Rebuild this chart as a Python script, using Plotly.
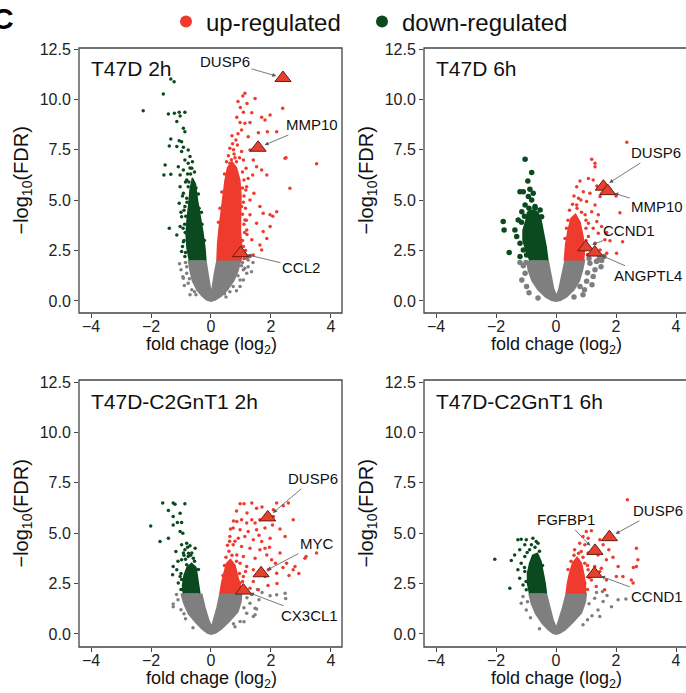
import plotly.graph_objects as go

# --------------------------
# Data (x = log2 fold change, y = -log10 FDR)
# *_core = outline of the densely packed part of each cloud
# --------------------------

panel_titles = ["T47D 2h", "T47D 6h", "T47D-C2GnT1 2h", "T47D-C2GnT1 6h"]

# ---- T47D 2h ----
t2_ns_core = [(-0.75, 2.0), (-0.7, 1.5), (-0.62, 1.0), (-0.47, 0.55), (-0.3, 0.25), (-0.15, 0.05),
              (0.0, -0.02), (0.15, 0.05), (0.35, 0.25), (0.55, 0.55), (0.76, 1.0), (0.9, 1.5),
              (0.99, 2.0), (0.2, 2.0), (0.12, 1.4), (0.06, 0.8), (0.01, 0.35), (-0.04, 0.8),
              (-0.1, 1.4), (-0.17, 2.0)]
t2_ns = [(-0.89, 0.76), (-0.94, 1.2), (-0.81, 1.7), (-0.85, 1.9), (-0.81, 1.37), (-0.92, 1.12),
         (-0.76, 0.88), (-0.64, 0.55), (-1.0, 1.55), (-1.05, 1.85), (-0.7, 0.3), (1.08, 1.54),
         (1.24, 1.7), (0.97, 1.04), (1.19, 2.1), (1.3, 2.2), (0.74, 0.71), (0.63, 0.46),
         (1.19, 1.37), (1.08, 1.04), (0.97, 0.71), (1.13, 1.62), (1.24, 2.03), (1.4, 1.9),
         (1.35, 1.45), (0.85, 0.5), (1.05, 1.9), (0.5, 0.2), (-0.5, 0.3), (-0.55, 0.45),
         (0.45, 0.35), (0.9, 1.25), (-0.72, 1.1), (1.02, 1.75)]
t2_down_core = [(-0.72, 2.0), (-0.8, 2.6), (-0.83, 3.3), (-0.8, 4.0), (-0.74, 4.8), (-0.7, 5.5),
                (-0.62, 6.1), (-0.52, 5.8), (-0.45, 5.0), (-0.35, 4.2), (-0.27, 3.4), (-0.2, 2.6),
                (-0.17, 2.0)]
t2_down = [(-1.34, 11.01), (-1.23, 10.88), (-1.59, 10.27), (-2.26, 9.44), (-1.42, 9.28),
           (-1.22, 9.31), (-1.06, 9.36), (-0.87, 9.36), (-1.03, 9.18), (-1.14, 8.9), (-0.92, 8.57),
           (-0.87, 8.4), (-1.34, 8.04), (-1.06, 7.95), (-0.98, 7.9), (-1.14, 7.66), (-0.92, 7.62),
           (-1.39, 7.69), (-0.76, 7.49), (-0.98, 7.41), (-0.7, 7.16), (-0.87, 6.99), (-1.53, 6.75),
           (-1.57, 6.25), (-1.34, 6.28), (-1.09, 6.66), (-1.03, 6.25), (-0.92, 6.5), (-0.76, 6.83),
           (-0.64, 6.58), (-0.81, 6.0), (-1.03, 5.67), (-0.92, 5.34), (-1.06, 4.84), (-0.98, 4.18),
           (-1.03, 3.69), (-1.39, 3.6), (-1.14, 3.27), (-0.92, 2.94), (-0.98, 2.45), (-0.87, 2.2),
           (-0.87, 4.68), (-0.81, 5.09), (-0.76, 5.67), (-0.85, 5.9), (-0.78, 6.3), (-0.9, 4.5),
           (-0.88, 3.8), (-0.9, 3.0), (-0.85, 2.4), (-0.55, 6.4), (-0.62, 6.9), (-0.7, 6.6),
           (-0.5, 5.6), (-0.4, 4.6), (-0.3, 3.8), (-0.95, 5.2), (-1.0, 4.4), (-0.86, 3.4),
           (-0.84, 4.2), (-0.8, 4.9), (-0.74, 5.9), (-0.68, 6.3), (-0.22, 3.0), (-0.32, 4.4),
           (-0.42, 5.3), (-0.93, 3.6), (-0.95, 2.7)]
t2_up_core = [(0.2, 2.0), (0.22, 2.8), (0.27, 3.6), (0.33, 4.4), (0.4, 5.2), (0.47, 6.0),
              (0.55, 6.6), (0.7, 6.9), (0.85, 6.6), (0.96, 6.0), (1.0, 5.2), (0.98, 4.4),
              (0.98, 3.5), (1.03, 2.6), (1.0, 2.0)]
t2_up = [(1.13, 10.3), (1.06, 10.17), (1.47, 10.05), (1.08, 9.36), (1.36, 9.34), (0.86, 9.11),
         (0.97, 8.85), (1.13, 8.81), (1.3, 8.85), (1.69, 9.11), (1.8, 8.98), (1.97, 9.23),
         (2.39, 9.56), (2.19, 8.4), (1.88, 8.4), (1.58, 8.35), (1.24, 8.15), (0.83, 7.99),
         (1.02, 8.48), (1.3, 7.49), (1.41, 6.99), (1.08, 6.99), (1.52, 6.66), (1.69, 6.5),
         (1.86, 6.25), (1.39, 6.25), (2.47, 7.08), (3.52, 6.8), (2.63, 5.59), (1.19, 5.67),
         (1.43, 5.34), (1.3, 5.01), (1.63, 4.68), (1.74, 4.35), (1.97, 4.27), (2.19, 4.43),
         (1.3, 4.27), (1.52, 3.85), (1.97, 3.69), (1.74, 3.44), (1.19, 3.52), (1.36, 3.03),
         (1.08, 2.7), (1.63, 2.78), (1.24, 2.2), (1.41, 2.28), (1.13, 4.02), (1.02, 4.68),
         (0.91, 5.01), (0.74, 6.33), (0.63, 6.83), (0.77, 7.29), (0.88, 7.74), (0.63, 7.57),
         (1.02, 7.41), (1.17, 6.58), (1.24, 6.08), (2.5, 7.1), (2.06, 4.2), (1.86, 3.1),
         (1.69, 2.53), (0.7, 8.2), (0.9, 8.3), (0.68, 7.0), (0.85, 6.9), (0.95, 7.1), (0.72, 7.8),
         (0.6, 6.6), (1.05, 6.4), (1.1, 6.0), (1.05, 5.6), (1.1, 5.2), (1.15, 4.6), (1.05, 4.3),
         (1.1, 3.8), (1.05, 3.0), (1.15, 2.5), (1.0, 2.3), (1.2, 3.3), (0.98, 9.6), (1.2, 9.8),
         (0.9, 9.9), (0.3, 4.6), (0.36, 5.4), (0.45, 6.3), (0.25, 3.9), (0.52, 6.9), (0.8, 7.1),
         (1.12, 3.4), (1.18, 4.0), (1.08, 4.9), (1.16, 5.5), (1.1, 2.1), (0.58, 7.2), (0.75, 7.5)]
t2_genes = [("DUSP6", 2.4, 11.06), ("MMP10", 1.57, 7.6), ("CCL2", 0.99, 2.37)]

# ---- T47D 6h ----
t6_ns_core = [(-0.98, 2.0), (-0.92, 1.5), (-0.8, 1.0), (-0.6, 0.55), (-0.35, 0.2), (-0.15, 0.03),
              (0.0, -0.02), (0.15, 0.03), (0.35, 0.2), (0.6, 0.55), (0.78, 1.0), (0.88, 1.5),
              (0.95, 2.0), (0.3, 2.0), (0.2, 1.3), (0.1, 0.6), (0.02, 0.25), (-0.08, 0.6),
              (-0.17, 1.3), (-0.26, 2.0)]
t6_ns = [(-1.09, 1.74), (-1.03, 1.37), (-1.14, 1.04), (-0.98, 0.71), (-0.9, 0.4), (1.13, 1.87),
         (1.3, 1.54), (1.24, 1.21), (1.02, 0.97), (0.8, 0.71), (1.35, 1.95), (1.41, 2.03),
         (1.52, 2.0), (1.45, 2.25), (1.6, 2.2), (1.1, 2.1), (0.9, 0.3), (-1.2, 1.9), (-0.6, 0.15),
         (0.6, 0.2), (1.5, 1.7), (1.2, 0.8), (1.05, 1.4), (0.95, 0.55), (-1.0, 1.9)]
t6_down_core = [(-0.87, 2.0), (-1.0, 2.5), (-1.1, 3.0), (-1.1, 3.5), (-1.0, 4.0), (-0.95, 4.4),
                (-0.8, 4.5), (-0.6, 4.4), (-0.5, 4.0), (-0.42, 3.4), (-0.33, 2.7), (-0.27, 2.0)]
t6_down = [(-1.03, 7.03), (-0.81, 6.37), (-0.94, 5.95), (-1.2, 5.42), (-1.09, 5.42), (-0.87, 5.54),
           (-0.76, 5.34), (-0.92, 5.18), (-0.81, 5.01), (-1.03, 4.76), (-0.7, 4.68), (-0.53, 4.51),
           (-1.14, 4.43), (-1.76, 3.94), (-1.73, 3.52), (-1.56, 2.4), (-1.26, 4.02), (-1.31, 3.19),
           (-1.2, 2.86), (-1.09, 2.53), (-1.37, 3.52), (-0.98, 2.28), (-0.48, 4.18), (-1.15, 3.9),
           (-1.2, 2.2), (-0.45, 2.6), (-0.7, 4.6), (-0.9, 4.6), (-1.05, 4.2)]
t6_up_core = [(0.28, 2.0), (0.32, 2.8), (0.4, 3.5), (0.5, 4.1), (0.65, 4.3), (0.8, 3.9),
              (0.9, 3.2), (0.95, 2.5), (0.92, 2.0)]
t6_up = [(2.36, 7.87), (1.19, 7.03), (1.3, 6.83), (1.3, 6.66), (0.8, 5.95), (1.08, 6.08),
         (1.24, 6.0), (1.36, 5.7), (0.69, 5.67), (0.91, 5.42), (1.13, 5.34), (1.47, 5.18),
         (0.83, 5.01), (1.02, 4.93), (1.3, 4.76), (0.69, 4.76), (1.19, 4.43), (1.41, 4.27),
         (0.97, 4.27), (1.36, 3.94), (1.52, 3.69), (1.24, 3.6), (1.08, 3.85), (1.41, 3.36),
         (1.08, 3.19), (1.63, 3.03), (1.3, 2.86), (1.47, 2.53), (0.93, 2.78), (1.69, 2.36),
         (2.0, 5.21), (2.13, 4.38), (1.69, 3.39), (1.8, 2.98), (2.22, 2.94), (2.02, 2.37),
         (0.45, 4.5), (0.55, 4.8), (0.7, 4.6), (0.6, 5.2), (0.85, 4.4), (1.0, 3.6), (1.05, 2.3),
         (1.1, 2.6), (0.35, 3.6), (0.4, 4.0), (1.0, 4.0), (0.3, 3.1), (1.0, 3.0), (0.75, 5.1)]
t6_genes = [("DUSP6", 1.58, 5.67), ("MMP10", 1.72, 5.45), ("CCND1", 0.99, 2.66),
            ("ANGPTL4", 1.29, 2.4)]

# ---- T47D-C2GnT1 2h ----
c2_ns_core = [(-1.0, 2.0), (-0.9, 1.5), (-0.75, 1.0), (-0.5, 0.55), (-0.3, 0.25), (-0.12, 0.04),
              (0.0, -0.02), (0.15, 0.04), (0.35, 0.25), (0.6, 0.6), (0.9, 1.1), (1.0, 1.6),
              (1.02, 2.0), (0.3, 2.0), (0.2, 1.3), (0.1, 0.7), (0.02, 0.35), (-0.08, 0.7),
              (-0.2, 1.3), (-0.31, 2.0)]
c2_ns = [(-1.26, 1.49), (-1.26, 1.35), (-1.1, 1.7), (-1.15, 1.95), (-1.0, 1.2), (-0.85, 0.75),
         (1.3, 1.52), (1.47, 1.27), (1.19, 1.03), (1.41, 0.86), (2.19, 1.94), (2.47, 2.02),
         (1.97, 1.89), (0.97, 0.61), (1.47, 0.95), (2.49, 1.76), (1.52, 1.23), (1.2, 1.8),
         (1.35, 1.95), (1.6, 1.7), (1.7, 2.05), (1.1, 0.6), (0.8, 0.35), (-0.6, 0.3), (1.55, 2.2),
         (1.1, 1.3), (-0.9, 1.0), (0.75, 0.5)]
c2_down_core = [(-0.92, 2.0), (-0.95, 2.4), (-0.9, 2.9), (-0.8, 3.3), (-0.65, 3.5), (-0.5, 3.3),
                (-0.45, 2.8), (-0.4, 2.3), (-0.37, 2.0)]
c2_down = [(-1.61, 6.49), (-1.26, 6.49), (-1.2, 6.44), (-0.87, 6.46), (-1.42, 6.13), (-1.03, 5.99),
           (-1.26, 5.83), (-0.98, 5.53), (-1.12, 5.53), (-2.01, 5.36), (-1.26, 5.41), (-1.03, 5.08),
           (-0.94, 5.0), (-1.7, 4.59), (-1.42, 4.75), (-0.81, 4.5), (-0.98, 4.42), (-0.7, 4.37),
           (-1.17, 4.09), (-0.92, 4.01), (-0.64, 4.01), (-1.26, 3.34), (-1.14, 3.18), (-1.28, 2.93),
           (-1.03, 2.85), (-0.81, 3.43), (-0.98, 3.68), (-0.59, 3.76), (-1.09, 2.52), (-0.94, 2.19),
           (-0.76, 3.84), (-0.87, 4.17), (-0.53, 4.25), (-0.7, 3.1), (-0.55, 3.6), (-0.6, 3.2),
           (-0.98, 2.7), (-1.0, 3.0), (-0.85, 3.7), (-0.75, 4.0), (-0.68, 3.9), (-0.9, 3.9),
           (-1.0, 2.2), (-0.42, 3.2), (-0.78, 4.3), (-1.1, 3.6)]
c2_up_core = [(0.3, 2.0), (0.35, 2.5), (0.43, 3.0), (0.52, 3.5), (0.65, 3.7), (0.8, 3.4),
              (0.9, 2.8), (1.0, 2.3), (1.0, 2.0)]
c2_up = [(0.97, 6.46), (1.1, 6.46), (1.36, 6.49), (1.52, 6.24), (2.19, 6.49), (2.41, 6.36),
         (2.58, 6.49), (2.08, 6.16), (0.86, 5.58), (1.02, 5.66), (1.19, 5.5), (1.36, 5.66),
         (1.47, 5.5), (1.63, 5.66), (2.08, 5.83), (2.74, 5.66), (0.74, 5.25), (0.97, 5.17),
         (1.24, 5.08), (1.52, 5.17), (1.8, 5.25), (0.63, 4.83), (0.91, 4.75), (1.13, 4.83),
         (1.41, 4.67), (1.69, 4.59), (1.97, 4.75), (2.47, 4.83), (0.74, 4.42), (1.02, 4.34),
         (1.3, 4.25), (1.63, 4.17), (1.8, 4.25), (0.86, 3.92), (1.08, 3.84), (1.47, 3.76),
         (1.86, 3.92), (2.02, 3.68), (2.3, 4.01), (2.8, 3.34), (3.13, 3.76), (3.52, 4.01),
         (2.74, 3.18), (2.52, 3.51), (0.97, 3.51), (1.19, 3.34), (1.41, 3.18), (1.91, 3.18),
         (2.19, 3.01), (1.08, 2.85), (1.41, 2.6), (1.8, 2.85), (1.3, 2.27), (1.58, 2.19),
         (0.97, 2.52), (3.17, 3.84), (2.93, 3.0), (0.5, 3.8), (0.6, 4.1), (0.7, 3.9), (0.85, 3.6),
         (0.55, 4.4), (0.95, 3.0), (1.1, 2.2), (0.45, 3.4), (0.8, 4.6), (0.65, 5.2), (0.75, 5.6),
         (0.85, 6.1), (1.2, 6.0), (1.7, 6.3), (1.9, 5.9), (2.05, 5.4), (2.3, 5.2), (1.6, 4.9),
         (1.95, 4.3), (2.15, 3.5), (2.4, 3.3), (2.6, 2.9), (2.2, 2.5), (1.9, 2.4), (1.05, 2.6),
         (0.4, 2.9), (1.15, 3.1), (0.62, 4.6)]
c2_genes = [("DUSP6", 1.89, 5.78), ("MYC", 1.67, 3.01), ("CX3CL1", 1.08, 2.15)]

# ---- T47D-C2GnT1 6h ----
c6_ns_core = [(-0.9, 2.0), (-0.82, 1.5), (-0.68, 1.0), (-0.45, 0.5), (-0.25, 0.2), (-0.1, 0.03),
              (0.0, -0.02), (0.12, 0.03), (0.3, 0.2), (0.55, 0.55), (0.85, 1.05), (0.98, 1.6),
              (1.01, 2.0), (0.34, 2.0), (0.22, 1.3), (0.1, 0.7), (0.01, 0.3), (-0.1, 0.7),
              (-0.2, 1.3), (-0.32, 2.0)]
c6_ns = [(-1.1, 1.85), (-1.16, 1.52), (-0.99, 1.19), (-0.85, 0.8), (1.29, 1.77), (1.57, 1.61),
         (1.4, 1.19), (1.46, 0.86), (2.07, 1.69), (2.33, 1.73), (1.2, 0.9), (1.1, 1.5), (1.7, 1.9),
         (0.9, 0.45), (-0.55, 0.25), (1.35, 2.05), (1.55, 2.1), (1.85, 1.35), (1.05, 0.7),
         (-0.95, 1.6)]
c6_down_core = [(-0.88, 2.0), (-0.95, 2.5), (-0.95, 3.0), (-0.88, 3.5), (-0.78, 3.9), (-0.62, 4.0),
                (-0.5, 3.6), (-0.42, 3.0), (-0.36, 2.5), (-0.32, 2.0)]
c6_down = [(-1.27, 4.67), (-1.16, 4.7), (-0.99, 4.67), (-0.77, 4.75), (-1.04, 4.42), (-0.82, 4.42),
           (-0.66, 4.59), (-1.21, 4.17), (-0.96, 4.04), (-1.38, 3.92), (-1.49, 3.64), (-2.04, 3.71),
           (-1.16, 3.51), (-1.27, 3.18), (-1.04, 3.1), (-1.21, 2.76), (-1.54, 2.27), (-1.1, 2.43),
           (-0.99, 2.19), (-1.04, 3.84), (-0.88, 4.17), (-0.55, 4.1), (-0.7, 4.3), (-0.45, 3.4),
           (-1.0, 2.6), (-1.05, 3.3), (-0.6, 4.5)]
c6_up_core = [(0.34, 2.0), (0.38, 2.5), (0.45, 3.0), (0.55, 3.5), (0.7, 3.8), (0.85, 3.5),
              (0.92, 3.0), (0.98, 2.5), (0.98, 2.0)]
c6_up = [(2.38, 6.66), (1.01, 5.08), (1.18, 5.12), (0.9, 4.83), (1.07, 4.75), (1.46, 4.67),
         (0.79, 4.5), (0.96, 4.42), (1.57, 4.42), (0.62, 4.17), (0.84, 4.09), (1.07, 4.01),
         (1.4, 3.92), (1.76, 4.17), (2.68, 4.25), (2.73, 3.68), (1.9, 3.81), (1.68, 3.68),
         (0.73, 3.68), (0.96, 3.51), (1.29, 3.34), (1.51, 3.26), (1.07, 3.18), (1.46, 3.1),
         (2.07, 3.34), (2.01, 2.85), (1.68, 2.68), (1.18, 2.68), (0.96, 2.52), (1.34, 2.35),
         (1.62, 2.19), (2.51, 2.68), (2.57, 2.52), (2.68, 3.34), (2.23, 2.85), (2.58, 3.3),
         (0.6, 3.9), (0.75, 4.0), (0.5, 3.6), (1.05, 2.2), (1.1, 2.8), (0.9, 3.8), (0.4, 3.2),
         (1.05, 3.4)]
c6_genes = [("DUSP6", 1.78, 4.8), ("FGFBP1", 1.3, 4.12), ("CCND1", 1.28, 2.98)]

# label placement (text centre, data units) for each gene callout
label_pos = [
    {"DUSP6": (0.47, 11.9), "MMP10": (3.37, 8.73), "CCL2": (3.0, 1.65)},
    {"DUSP6": (3.33, 7.34), "MMP10": (3.37, 4.67), "CCND1": (2.43, 3.49), "ANGPTL4": (3.07, 1.25)},
    {"DUSP6": (3.4, 7.7), "MYC": (3.53, 4.47), "CX3CL1": (3.3, 0.9)},
    {"DUSP6": (3.39, 6.11), "FGFBP1": (0.32, 5.66), "CCND1": (3.36, 1.84)},
]

panels = [
    (t2_ns_core, t2_ns, t2_down_core, t2_down, t2_up_core, t2_up, t2_genes),
    (t6_ns_core, t6_ns, t6_down_core, t6_down, t6_up_core, t6_up, t6_genes),
    (c2_ns_core, c2_ns, c2_down_core, c2_down, c2_up_core, c2_up, c2_genes),
    (c6_ns_core, c6_ns, c6_down_core, c6_down, c6_up_core, c6_up, c6_genes),
]

# --------------------------
# Styling
# --------------------------
RED = "#EE3B2E"
GREEN = "#0A4A1E"
GREY = "#7F7F7F"
FRAME = "#444444"
FONT = "Liberation Sans, Arial, sans-serif"

W, H = 686, 693
# pixel boxes of each panel: (left, right, top, bottom)
boxes = [(79, 342, 48, 313), (424, 686, 48, 313), (79, 342, 380, 647), (424, 686, 380, 647)]
xranges = [[-4.4, 4.367], [-4.4, 4.333], [-4.4, 4.367], [-4.4, 4.333]]
yranges = [[-0.6, 12.55], [-0.6, 12.55], [-0.65, 12.6], [-0.65, 12.6]]
dot_size = [3.5, 3.5, 3.5, 3.5]
big_dot = [3.5, 5.5, 3.5, 3.5]  # 6h T47D panel uses bigger grey/green dots


def xs(pts):
    return [p[0] for p in pts]


def ys(pts):
    return [p[1] for p in pts]


fig = go.Figure()
layout = {}
shapes = []
annotations = []

for i, (ns_core, ns, dn_core, dn, up_core, up, genes) in enumerate(panels):
    n = i + 1
    xa = "x" if n == 1 else f"x{n}"
    ya = "y" if n == 1 else f"y{n}"
    ax = dict(xaxis=xa, yaxis=ya)

    def core(pts, col):
        fig.add_trace(go.Scatter(x=xs(pts), y=ys(pts), fill="toself", fillcolor=col, mode="lines",
                                 line=dict(color=col, width=1.5), hoverinfo="skip",
                                 showlegend=False, **ax))

    core(ns_core, GREY)
    fig.add_trace(go.Scatter(x=xs(ns), y=ys(ns), mode="markers", showlegend=False,
                             marker=dict(color=GREY, size=big_dot[i]), **ax))
    core(dn_core, GREEN)
    fig.add_trace(go.Scatter(x=xs(dn), y=ys(dn), mode="markers", name="down-regulated",
                             showlegend=(n == 1), legend="legend2",
                             marker=dict(color=GREEN, size=big_dot[i]), **ax))
    core(up_core, RED)
    fig.add_trace(go.Scatter(x=xs(up), y=ys(up), mode="markers", name="up-regulated",
                             showlegend=(n == 1), legend="legend",
                             marker=dict(color=RED, size=dot_size[i]), **ax))
    fig.add_trace(go.Scatter(x=[g[1] for g in genes], y=[g[2] for g in genes], mode="markers",
                             showlegend=False,
                             marker=dict(symbol="triangle-up", size=14, color="#E5412F",
                                         line=dict(color="#6B1A10", width=1)), **ax))

    for name, gx, gy in genes:
        tx, ty = label_pos[i][name]
        annotations.append(dict(x=gx, y=gy, ax=tx, ay=ty, xref=xa, yref=ya, axref=xa, ayref=ya,
                                text=name, showarrow=True, arrowhead=2, arrowsize=1,
                                arrowwidth=0.8, arrowcolor="#555555", standoff=7,
                                font=dict(size=15, color="#111111", family=FONT)))

    l, r, t, b = boxes[i]
    layout["xaxis" if n == 1 else f"xaxis{n}"] = dict(
        domain=[l / W, min(r / W, 1.0)], range=xranges[i], anchor=ya, automargin=False,
        tickvals=[-4, -2, 0, 2, 4], ticks="outside", ticklen=4, tickcolor=FRAME,
        ticklabelstandoff=-5, showgrid=False, zeroline=False, showline=False,
        tickfont=dict(size=16, color="#222222", family=FONT))
    layout["yaxis" if n == 1 else f"yaxis{n}"] = dict(
        domain=[1 - b / H, 1 - t / H], range=yranges[i], anchor=xa, automargin=False,
        tickvals=[0, 2.5, 5, 7.5, 10, 12.5], tickformat=".1f", ticks="outside", ticklen=4,
        tickcolor=FRAME, showgrid=False, zeroline=False, showline=False,
        tickfont=dict(size=16, color="#222222", family=FONT))

    dref = "x domain" if n == 1 else f"x{n} domain"
    yref = "y domain" if n == 1 else f"y{n} domain"
    shapes.append(dict(type="rect", xref=dref, yref=yref, x0=0, x1=1 if r < W else 1.02,
                       y0=0, y1=1, line=dict(color=FRAME, width=1.3)))

    # panel title
    annotations.append(dict(x=-4.07, y=11.55, xref=xa, yref=ya, xanchor="left", yanchor="middle",
                            text=panel_titles[i], showarrow=False,
                            font=dict(size=21, color="#111111", family=FONT)))
    # axis titles
    annotations.append(dict(x=(l + 132) / W, y=1 - (b + 32) / H, xref="paper", yref="paper",
                            text="fold chage (log<sub>2</sub>)", showarrow=False,
                            xanchor="center", yanchor="middle",
                            font=dict(size=18, color="#111111", family=FONT)))
    annotations.append(dict(x=(l - 57) / W, y=1 - (t + b) / 2 / H, xref="paper", yref="paper",
                            text="\u2212log<sub>10</sub>(FDR)", showarrow=False, textangle=-90,
                            xanchor="center", yanchor="middle",
                            font=dict(size=20, color="#111111", family=FONT)))

# figure panel letter, cut at the left edge like the original
annotations.append(dict(x=-0.014, y=1 - 18 / H, xref="paper", yref="paper", xanchor="left",
                        yanchor="middle", text="<b>C</b>", showarrow=False,
                        font=dict(size=30, color="#000000", family=FONT)))

legend_style = dict(orientation="h", y=1 - 22 / H, xanchor="left", yanchor="middle",
                    itemsizing="constant", bgcolor="rgba(0,0,0,0)",
                    font=dict(size=24, color="#111111", family=FONT))

fig.update_layout(
    width=W, height=H, margin=dict(l=0, r=0, t=0, b=0, autoexpand=False),
    paper_bgcolor="white", plot_bgcolor="white",
    shapes=shapes, annotations=annotations,
    legend=dict(x=(187 - 21) / W, **legend_style),
    legend2=dict(x=(383 - 21) / W, **legend_style),
    **layout,
)

# the page body gets no default 8px margin, so the figure sits at the window's corner
fig.write_html("out.html", config={"displayModeBar": False},
               post_script="document.body.style.margin='0';")
